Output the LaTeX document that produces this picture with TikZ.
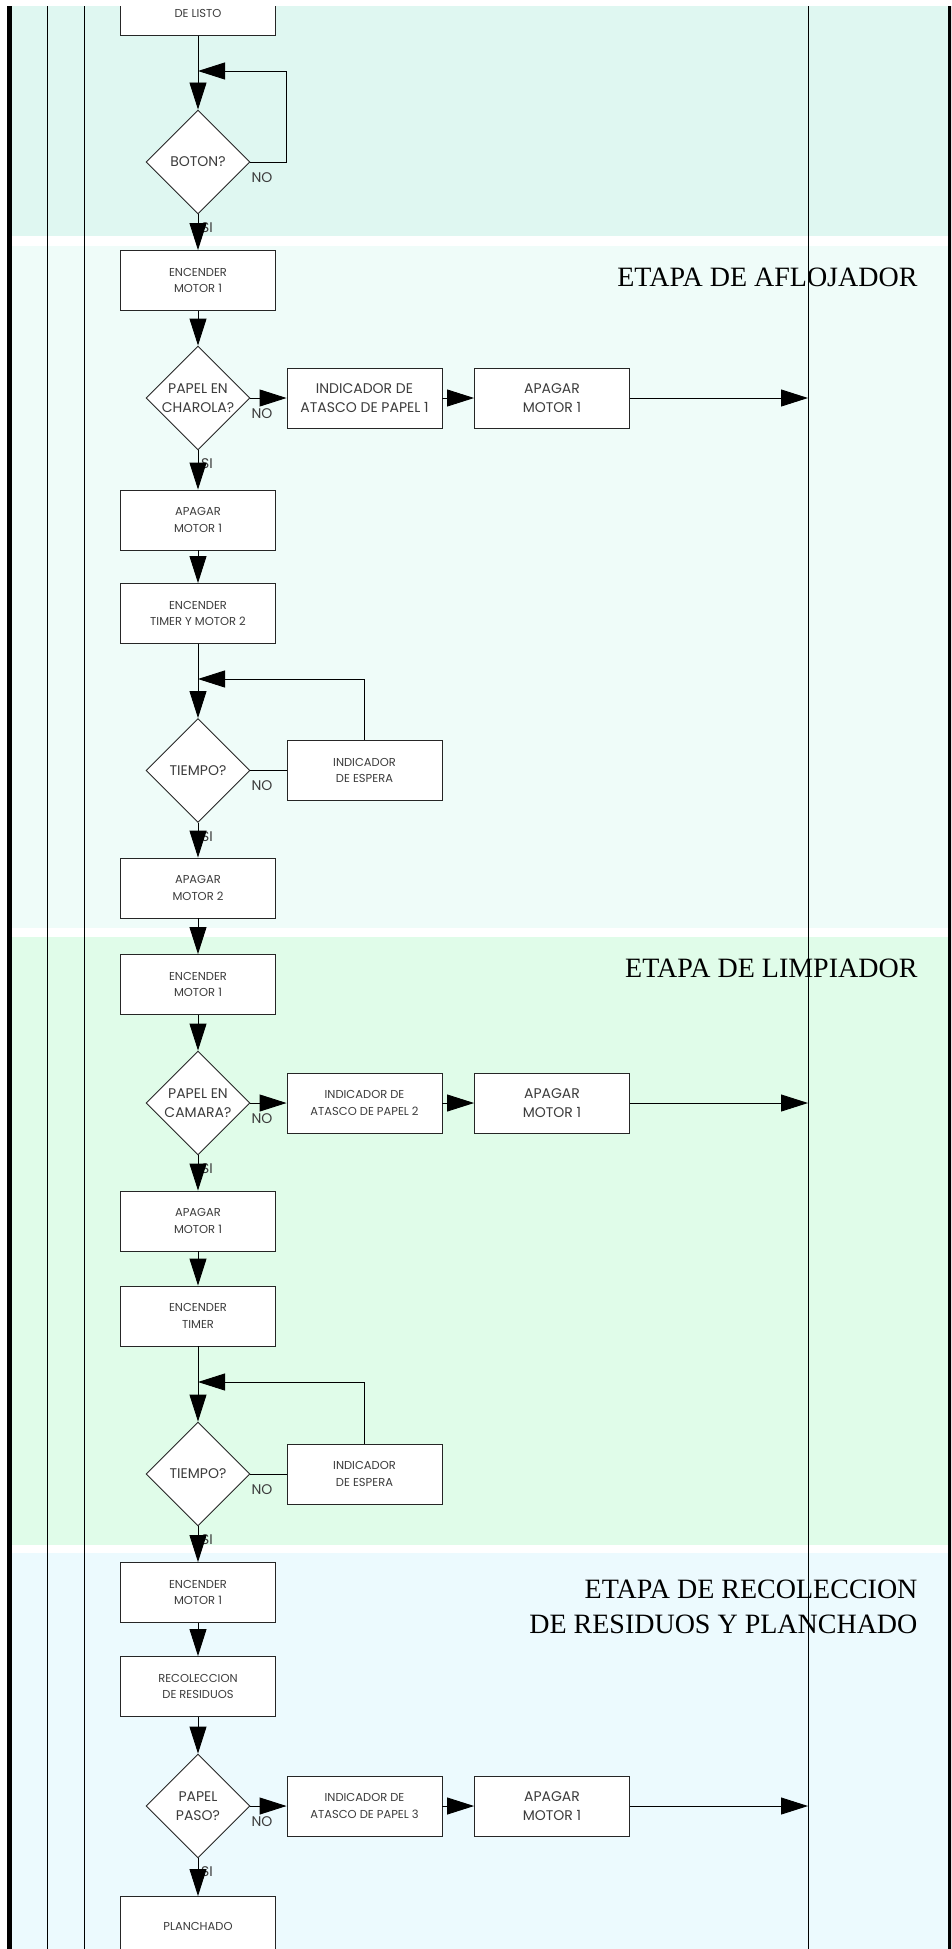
\documentclass[tikz,border=0pt]{standalone}
\usepackage{fontspec}
\setmainfont{Poppins}
\newfontfamily\etapafont{Liberation Serif}
\usetikzlibrary{arrows.meta,shapes.geometric}

\definecolor{bandlisto}{RGB}{223,247,241}
\definecolor{bandaflo}{RGB}{239,252,249}
\definecolor{bandlimp}{RGB}{224,252,233}
\definecolor{bandreco}{RGB}{236,250,254}
\definecolor{txt}{RGB}{60,60,60}

\begin{document}
\begin{tikzpicture}[x=1pt, y=-1pt,
  box/.style={draw=black!85, line width=0.9pt, fill=white, minimum width=155pt,
    minimum height=60pt, inner sep=0pt, align=center, text=txt,
    font=\fontsize{11.5}{16.5}\selectfont},
  bigbox/.style={box, font=\fontsize{14}{18.5}\selectfont},
  decision/.style={diamond, draw=black!85, line width=0.9pt, fill=white, aspect=1,
    minimum width=104pt, minimum height=104pt, inner sep=-14pt, align=center,
    text=txt, font=\fontsize{14}{18.5}\selectfont},
  flow/.style={line width=0.9pt, -{Triangle[length=27pt,width=17pt]}},
  link/.style={line width=0.9pt},
  answer/.style={inner sep=0pt, anchor=north west, text=txt, font=\fontsize{14}{16}\selectfont},
  etapa/.style={font=\etapafont\fontsize{28}{35}\selectfont, align=right, anchor=base east}]
\useasboundingbox (0,0) rectangle (951,1949);
\clip (0,6) rectangle (951,1949);

% stage bands
\fill[bandlisto] (12,6) rectangle (948,236);
\fill[bandaflo] (12,246) rectangle (948,928);
\fill[bandlimp] (12,937) rectangle (948,1545);
\fill[bandreco] (12,1553) rectangle (948,1949);

% lane borders
\draw[line width=5pt] (9.5,6) -- (9.5,1949);
\draw[line width=5pt] (950.5,6) -- (950.5,1949);
\foreach \x in {47,84,808}
  \draw[line width=0.9pt] (\x,6) -- (\x,1949);
\coordinate (lane) at (808,0);

\node[etapa] (t1) at (921,286) {ETAPA DE AFLOJADOR};
\node[etapa] (t2) at (921,977) {ETAPA DE LIMPIADOR};
\node[etapa] (t3) at (921,1633) {ETAPA DE RECOLECCION\\DE RESIDUOS Y PLANCHADO};

% ready / button
\node[box] (listo) at (198,5.5) {\phantom{X}\\DE LISTO};
\coordinate (j1) at (198,71);
\node[decision] (boton) at (198,162) {BOTON?};

% loosener stage
\node[box] (m1a) at (198,280.5) {ENCENDER\\MOTOR 1};
\node[decision] (charola) at (198,398) {PAPEL EN\\CHAROLA?};
\node[bigbox] (atasco1) at (364.5,398) {INDICADOR DE\\ATASCO DE PAPEL 1};
\node[bigbox] (off1) at (552,398) {APAGAR\\MOTOR 1};
\node[box] (apg1a) at (198,520) {APAGAR\\MOTOR 1};
\node[box] (timer1) at (198,613.5) {ENCENDER\\TIMER Y MOTOR 2};
\coordinate (j2) at (198,679);
\node[decision] (tiempo1) at (198,770.5) {TIEMPO?};
\node[box] (espera1) at (364.5,770.5) {INDICADOR\\DE ESPERA};
\node[box] (apg2) at (198,888) {APAGAR\\MOTOR 2};

% cleaner stage
\node[box] (m1b) at (198,984.5) {ENCENDER\\MOTOR 1};
\node[decision] (camara) at (198,1103) {PAPEL EN\\CAMARA?};
\node[box] (atasco2) at (364.5,1103) {INDICADOR DE\\ATASCO DE PAPEL 2};
\node[bigbox] (off2) at (552,1103) {APAGAR\\MOTOR 1};
\node[box] (apg1b) at (198,1221) {APAGAR\\MOTOR 1};
\node[box] (timer2) at (198,1316) {ENCENDER\\TIMER};
\coordinate (j3) at (198,1382);
\node[decision] (tiempo2) at (198,1474) {TIEMPO?};
\node[box] (espera2) at (364.5,1474) {INDICADOR\\DE ESPERA};

% collecting and ironing stage
\node[box] (m1c) at (198,1592.5) {ENCENDER\\MOTOR 1};
\node[box] (recol) at (198,1686.5) {RECOLECCION\\DE RESIDUOS};
\node[decision] (paso) at (198,1806) {PAPEL\\PASO?};
\node[box] (atasco3) at (364.5,1806) {INDICADOR DE\\ATASCO DE PAPEL 3};
\node[bigbox] (off3) at (552,1806) {APAGAR\\MOTOR 1};
\node[box] (planch) at (198,1926.5) {PLANCHADO};

% yes / no answers
\foreach \d in {boton,charola,tiempo1,camara,tiempo2,paso} {
  \node[answer] (no-\d) at ([shift={(1,10)}]\d.east) {NO};
  \node[answer] (si-\d) at ([shift={(3,8)}]\d.south) {SI};
}

% connectors
\draw[flow] (listo) -- (boton);
\draw[flow] (boton.east) -- ++(36,0) |- (j1);
\draw[flow] (boton) -- (m1a);
\draw[flow] (m1a) -- (charola);
\draw[flow] (charola) -- (atasco1);
\draw[flow] (atasco1) -- (off1);
\draw[flow] (off1) -- (off1 -| lane);
\draw[flow] (charola) -- (apg1a);
\draw[flow] (apg1a) -- (timer1);
\draw[flow] (timer1) -- (tiempo1);
\draw[link] (tiempo1) -- (espera1);
\draw[flow] (espera1.north) |- (j2);
\draw[flow] (tiempo1) -- (apg2);
\draw[flow] (apg2) -- (m1b);
\draw[flow] (m1b) -- (camara);
\draw[flow] (camara) -- (atasco2);
\draw[flow] (atasco2) -- (off2);
\draw[flow] (off2) -- (off2 -| lane);
\draw[flow] (camara) -- (apg1b);
\draw[flow] (apg1b) -- (timer2);
\draw[flow] (timer2) -- (tiempo2);
\draw[link] (tiempo2) -- (espera2);
\draw[flow] (espera2.north) |- (j3);
\draw[flow] (tiempo2) -- (m1c);
\draw[flow] (m1c) -- (recol);
\draw[flow] (recol) -- (paso);
\draw[flow] (paso) -- (atasco3);
\draw[flow] (atasco3) -- (off3);
\draw[flow] (off3) -- (off3 -| lane);
\draw[flow] (paso) -- (planch);
\end{tikzpicture}
\end{document}
